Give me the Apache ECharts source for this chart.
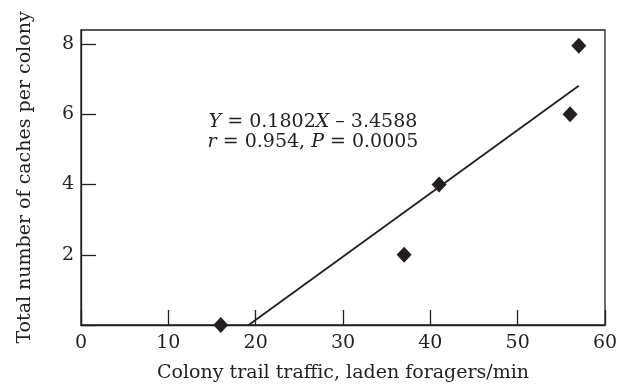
<!DOCTYPE html>
<html>
<head>
<meta charset="utf-8">
<script src="https://cdn.jsdelivr.net/npm/echarts@6/dist/echarts.min.js"></script>
<style>
  html, body { margin: 0; padding: 0; background: #fff; }
  #chart { width: 627px; height: 388px; }
</style>
</head>
<body>
<div id="chart"></div>
<script>
// Colony trail traffic vs. number of caches
const trafficX = [16, 37, 41, 56, 57];
const cachesY = [0, 2, 4, 6, 7.95];
const xTicks = [0, 10, 20, 30, 40, 50, 60];
const yTicks = [2, 4, 6, 8];

// Least-squares fit stated on the chart
const slope = 0.1802;
const intercept = -3.4588;
const fitXEnd = 57;

const INK = '#231f20';
const FONT = '"DejaVu Serif", "Liberation Serif", serif';
const FS = 19;

const points = trafficX.map((x, i) => [x, cachesY[i]]);
const fitStart = -intercept / slope;
const fitLine = [fitStart, fitXEnd].map(x => [x, slope * x + intercept]);

const chart = echarts.init(document.getElementById('chart'), null, { renderer: 'canvas' });

chart.setOption({
  backgroundColor: '#fff',
  animation: false,
  grid: {
    left: 81, right: 22, top: 30, bottom: 61,
    show: true, borderColor: INK, borderWidth: 1.3, backgroundColor: 'transparent'
  },
  xAxis: {
    type: 'value', min: 0, max: 60, interval: 10,
    name: 'Colony trail traffic, laden foragers/min',
    nameLocation: 'middle', nameGap: 39,
    nameTextStyle: { fontFamily: FONT, fontSize: FS, color: INK },
    axisLine: { show: true, lineStyle: { color: INK, width: 1.3 } },
    axisTick: { show: true, inside: true, length: 15, lineStyle: { color: INK, width: 1.3 } },
    axisLabel: {
      margin: 9, fontFamily: FONT, fontSize: FS, color: INK,
      formatter: v => (xTicks.includes(v) ? String(v) : '')
    },
    splitLine: { show: false }
  },
  yAxis: {
    type: 'value', min: 0, max: 8.4, interval: 2,
    name: 'Total number of caches per colony',
    nameLocation: 'middle', nameGap: 46,
    nameTextStyle: { fontFamily: FONT, fontSize: FS, color: INK },
    axisLine: { show: true, lineStyle: { color: INK, width: 1.3 } },
    axisTick: { show: true, inside: true, length: 15, lineStyle: { color: INK, width: 1.3 } },
    axisLabel: {
      margin: 7, fontFamily: FONT, fontSize: FS, color: INK,
      formatter: v => (yTicks.includes(v) ? String(v) : ''),
      showMaxLabel: false
    },
    splitLine: { show: false }
  },
  series: [
    {
      type: 'line', data: fitLine, symbol: 'none', silent: true,
      lineStyle: { color: INK, width: 1.8 }, z: 2
    },
    {
      type: 'scatter', data: points, symbol: 'diamond', symbolSize: [15, 16],
      itemStyle: { color: INK, opacity: 1 }, clip: false, z: 3
    }
  ],
  graphic: [{
    type: 'text', x: 313, y: 112, z: 10,
    style: {
      text: '{i|Y} = 0.1802{i|X} – 3.4588\n{i|r} = 0.954, {i|P} = 0.0005',
      fontFamily: FONT, fontSize: FS, fill: INK, align: 'center', verticalAlign: 'top', lineHeight: 20,
      rich: {
        i: { fontStyle: 'italic', fontFamily: FONT, fontSize: FS, fill: INK, lineHeight: 20 }
      }
    }
  }]
});
</script>
</body>
</html>
